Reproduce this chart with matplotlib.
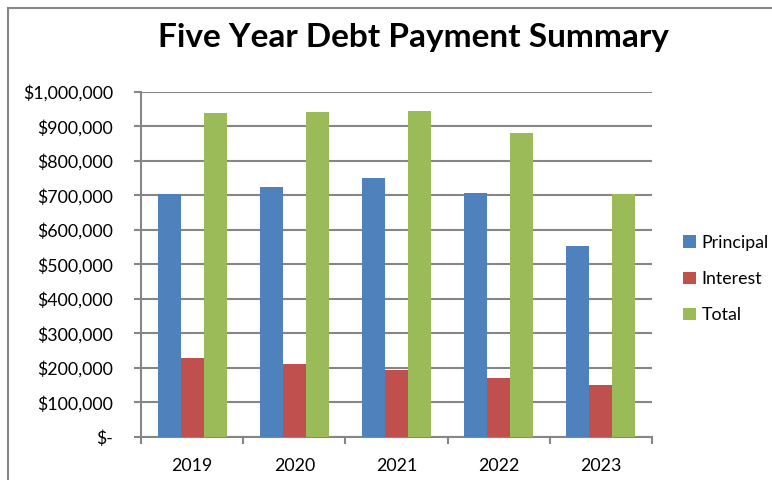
import matplotlib.pyplot as plt
from matplotlib.lines import Line2D
from matplotlib.ticker import FuncFormatter
import numpy as np

years = ["2019", "2020", "2021", "2022", "2023"]
principal = [704000, 725000, 751000, 706000, 552000]
interest = [228000, 211000, 193000, 170000, 150000]
total = [937000, 940000, 945000, 881000, 703000]

plt.rcParams['font.family'] = ['Lato', 'DejaVu Sans']

W, H = 772, 480
fig = plt.figure(figsize=(W / 100, H / 100), dpi=100)

# plot area in pixels
left, right, top, bottom = 141, 652, 91.7, 437
ax = fig.add_axes([left / W, 1 - bottom / H, (right - left) / W, (bottom - top) / H])

x = np.arange(len(years))
w = 0.225
ax.bar(x - w, principal, w, color="#4F81BD", label="Principal", zorder=3)
ax.bar(x, interest, w, color="#C0504D", label="Interest", zorder=3)
ax.bar(x + w, total, w, color="#9BBB59", label="Total", zorder=3)

ax.set_xlim(-0.5, len(years) - 0.5)
ax.set_ylim(0, 1000000)
ax.set_yticks(np.arange(0, 1000001, 100000))

def money(v, pos):
    if v == 0:
        return "$-"
    return "${:,.0f}".format(v)

ax.yaxis.set_major_formatter(FuncFormatter(money))
ax.yaxis.grid(True, color="#868686", linewidth=1.5, zorder=0)

gray = "#868686"
for s in ["top", "right"]:
    ax.spines[s].set_visible(False)
for s in ["left", "bottom"]:
    ax.spines[s].set_color(gray)
    ax.spines[s].set_linewidth(1.5)

ax.set_xticks(x)
ax.set_xticklabels(years)
ax.set_xticks(np.arange(-0.5, len(years)), minor=True)
ax.tick_params(axis="x", which="major", length=0, pad=15, labelsize=12.8)
ax.tick_params(axis="x", which="minor", length=5, width=1.5, color=gray)
ax.tick_params(axis="y", length=5, width=1.5, color=gray, pad=15, labelsize=12.8)

fig.text(413 / W, 1 - 37 / H, "Five Year Debt Payment Summary",
         ha="center", va="center", fontsize=24, fontweight="bold")

leg = fig.legend(loc="center left", bbox_to_anchor=(676 / W, 1 - 279 / H),
                 frameon=False, fontsize=12.8, handlelength=0.7, handleheight=0.7,
                 handletextpad=0.35, labelspacing=1.15, borderaxespad=0)

# chart frame
fig.add_artist(Line2D([8 / W, 8 / W], [0, 1 - 8 / H], color=gray, linewidth=1.5))
fig.add_artist(Line2D([8 / W, 1], [1 - 8 / H, 1 - 8 / H], color=gray, linewidth=1.5))

fig.savefig("out.png", dpi=100)
